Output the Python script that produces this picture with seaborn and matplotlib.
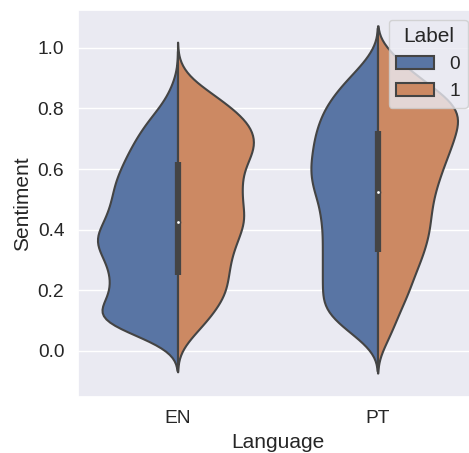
import matplotlib
matplotlib.use("Agg")
import matplotlib.pyplot as plt
import seaborn as sns
import pandas as pd
import numpy as np

# sentiment bins (0.000 .. 1.000, step 0.025) and counts per language / label
sentiment_bins = [0.000, 0.025, 0.050, 0.075, 0.100, 0.125, 0.150, 0.175, 0.200, 0.225,
                  0.250, 0.275, 0.300, 0.325, 0.350, 0.375, 0.400, 0.425, 0.450, 0.475,
                  0.500, 0.525, 0.550, 0.575, 0.600, 0.625, 0.650, 0.675, 0.700, 0.725,
                  0.750, 0.775, 0.800, 0.825, 0.850, 0.875, 0.900, 0.925, 0.950, 0.975,
                  1.000]
en_label0 = [8, 20, 40, 62, 78, 82, 76, 70, 68, 67, 68, 70, 73, 78, 82, 83, 79, 74, 71, 68,
             66, 65, 63, 61, 57, 54, 50, 46, 42, 37, 32, 26, 19, 14, 9, 6, 3, 1, 0, 0, 0]
en_label1 = [3, 8, 15, 22, 29, 35, 40, 45, 48, 49, 50, 51, 52, 54, 57, 60, 63, 66, 66, 64,
             63, 63, 63, 63, 65, 69, 73, 76, 76, 74, 70, 63, 54, 44, 34, 22, 12, 6, 2, 0, 0]
pt_label0 = [12, 24, 44, 64, 82, 96, 104, 106, 106, 106, 106, 106, 106, 106, 106, 106, 106,
             108, 110, 112, 116, 122, 126, 128, 130, 128, 126, 124, 122, 118, 114, 108, 102,
             92, 82, 70, 56, 42, 28, 16, 8]
pt_label1 = [5, 8, 12, 15, 18, 21, 24, 28, 31, 33, 36, 39, 42, 45, 47, 49, 51, 51, 52, 53,
             54, 56, 58, 61, 63, 66, 69, 72, 74, 77, 79, 80, 78, 72, 62, 52, 42, 32, 22, 16, 10]

languages = ["EN", "PT"]
labels = [0, 1]
counts = {("EN", 0): en_label0, ("EN", 1): en_label1,
          ("PT", 0): pt_label0, ("PT", 1): pt_label1}

rows = []
for (lang, lab), cnt in counts.items():
    vals = np.repeat(sentiment_bins, cnt)
    rows.append(pd.DataFrame({"Language": lang, "Label": lab, "Sentiment": vals}))
df = pd.concat(rows, ignore_index=True)

sns.set_theme(style="darkgrid", font_scale=1.25)
plt.rcParams["font.family"] = ["Liberation Sans", "DejaVu Sans"]

fig = plt.figure(figsize=(4.69, 4.53), dpi=100)
ax = fig.add_axes([77.5 / 469, 56 / 453, 400 / 469, 387 / 453])

gray = "#444444"
sns.violinplot(data=df, x="Language", y="Sentiment", hue="Label", split=True,
               inner=None, linewidth=1.5, linecolor=gray, bw_adjust=0.7,
               order=languages, hue_order=labels, ax=ax)

# combined inner box for each language (old-style split violin)
for i, lang in enumerate(languages):
    data = df.loc[df["Language"] == lang, "Sentiment"].values
    q25, q50, q75 = np.percentile(data, [25, 50, 75])
    lim = 1.5 * (q75 - q25)
    lo = data[data >= q25 - lim].min()
    hi = data[data <= q75 + lim].max()
    ax.plot([i, i], [lo, hi], color=gray, linewidth=1.5, zorder=2)
    ax.plot([i, i], [q25, q75], color=gray, linewidth=4.5, solid_capstyle="butt", zorder=2)
    ax.scatter(i, q50, color="white", edgecolor=gray, s=9, zorder=3)

ax.set_ylim(-0.152, 1.125)
ax.set_xlim(-0.5, 1.5)
ax.set_yticks([0.0, 0.2, 0.4, 0.6, 0.8, 1.0])
ax.legend(title="Label", loc="upper right")

fig.savefig("out.png", dpi=100)
